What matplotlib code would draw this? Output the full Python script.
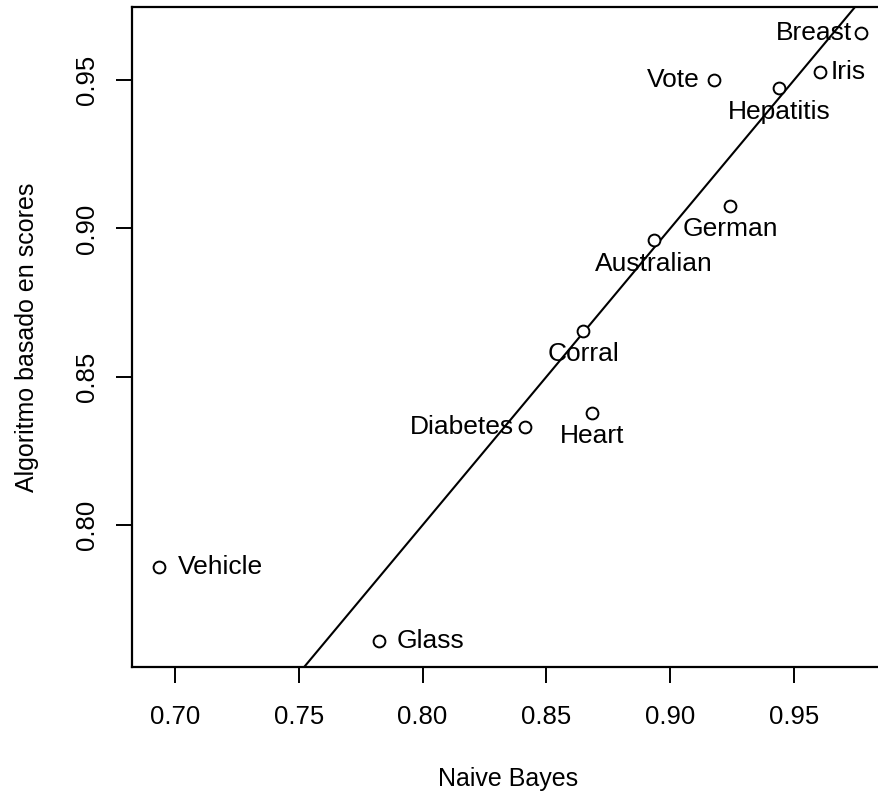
import matplotlib
matplotlib.use("Agg")
import matplotlib.pyplot as plt

plt.rcParams['font.family'] = ['Liberation Sans', 'DejaVu Sans']

names = ["Breast", "Iris", "Vote", "Hepatitis", "German", "Australian",
         "Corral", "Heart", "Diabetes", "Vehicle", "Glass"]
naive_bayes = [0.9770, 0.9605, 0.9177, 0.9440, 0.9242, 0.8935,
               0.8649, 0.8686, 0.8415, 0.6935, 0.7823]
scores_alg = [0.9658, 0.9527, 0.9500, 0.9473, 0.9077, 0.8960,
              0.8655, 0.8379, 0.8332, 0.7859, 0.7609]
label_pos = ["left", "right", "left", "below", "below", "below",
             "below", "below", "left", "right", "right"]

xticks = [0.70, 0.75, 0.80, 0.85, 0.90, 0.95]
yticks = [0.80, 0.85, 0.90, 0.95]

W, H = 879, 795
fig = plt.figure(figsize=(W / 100, H / 100), dpi=100)
left_px, right_px, top_px, bot_px = 132, 885, 7, 667
ax = fig.add_axes([left_px / W, 1 - bot_px / H, (right_px - left_px) / W, (bot_px - top_px) / H])

ax.set_xlim(0.6827, 0.9867)
ax.set_ylim(0.7522, 0.9746)

ax.axline((0.75, 0.75), (0.95, 0.95), color="black", lw=1.5)
ax.plot(naive_bayes, scores_alg, "o", mfc="white", mec="black", ms=8.5, mew=1.4, zorder=3)

# horizontal gaps (points) between marker centre and side labels
side_gap = {"Breast": 6.5, "Iris": 7.5, "Vote": 10.5, "Diabetes": 8, "Vehicle": 14, "Glass": 13}

fs = 19
for n, x, y, p in zip(names, naive_bayes, scores_alg, label_pos):
    g = side_gap.get(n, 10)
    if p == "left":
        ax.annotate(n, (x, y), xytext=(-g, 0), textcoords="offset points",
                    ha="right", va="center", fontsize=fs)
    elif p == "right":
        ax.annotate(n, (x, y), xytext=(g, 0), textcoords="offset points",
                    ha="left", va="center", fontsize=fs)
    else:
        ax.annotate(n, (x, y), xytext=(0, -17), textcoords="offset points",
                    ha="center", va="center", fontsize=fs)

ax.set_xticks(xticks)
ax.set_xticklabels([f"{t:.2f}" for t in xticks])
ax.set_yticks(yticks)
ax.set_yticklabels([f"{t:.2f}" for t in yticks], rotation=90, va="center")
ax.tick_params(axis="both", length=11.5, width=1.4, labelsize=18.5)
ax.tick_params(axis="x", pad=16)
ax.tick_params(axis="y", pad=12)
for s in ax.spines.values():
    s.set_linewidth(1.6)

ax.set_xlabel("Naive Bayes", fontsize=18, labelpad=27)
ax.set_ylabel("Algoritmo basado en scores", fontsize=18, labelpad=26)

fig.savefig("out.png", dpi=100)
